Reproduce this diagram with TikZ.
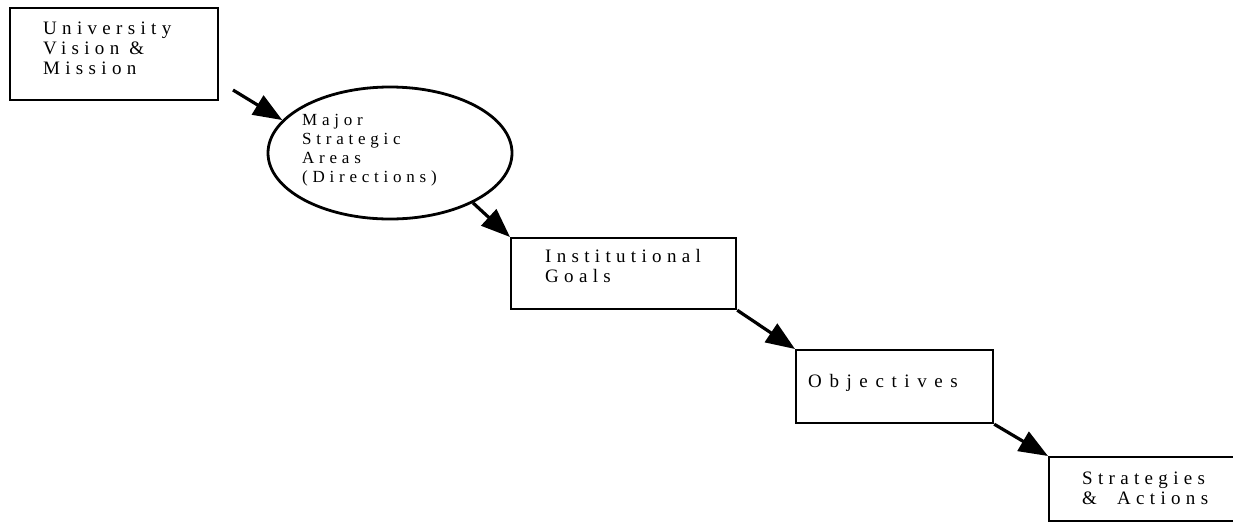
\documentclass[tikz,border=0pt]{standalone}
\usepackage{fontspec}
\setmainfont{Liberation Serif}
\usetikzlibrary{arrows.meta,shapes.geometric}
\newcommand{\spaced}[1]{\addfontfeature{LetterSpace=#1}}
\begin{document}
\begin{tikzpicture}[x=1pt,y=-1pt,
  stagebox/.style={draw,line width=2.2pt,rectangle,inner sep=0pt,anchor=north west},
  areaoval/.style={draw,line width=2.8pt,ellipse,inner sep=0pt,minimum width=244pt,minimum height=132pt},
  label/.style={anchor=north west,inner sep=0pt,align=left,font=\fontsize{19}{20}\selectfont\spaced{28}},
  smalllabel/.style={anchor=north west,inner sep=0pt,align=left,font=\fontsize{17}{19}\selectfont\spaced{28}},
  flow/.style={line width=3.2pt,-{Triangle[length=29pt,width=22pt]}}]
\useasboundingbox (0,0) rectangle (1233,523);
\clip (0,0) rectangle (1233,523);

% boxes and oval
\node[stagebox,minimum width=208pt,minimum height=92pt] (vision) at (9,7) {};
\node[areaoval] (areas) at (390,153) {};
\node[stagebox,minimum width=225pt,minimum height=71pt] (goals) at (510,237) {};
\node[stagebox,minimum width=197pt,minimum height=73pt] (objectives) at (795,349) {};
\node[stagebox,minimum width=200pt,minimum height=64pt] (strategies) at (1048,456) {};

% texts
\node[label] (visiontext) at (43,22) {University\\Vision \&\\Mission};
\node[smalllabel] (areastext) at (302,114) {Major\\Strategic\\Areas\\(Directions)};
\node[label] (goalstext) at (545,249) {Institutional\\Goals};
\node[label,font=\fontsize{19}{20}\selectfont\spaced{40}] (objectivestext) at (808,374) {Objectives};
\node[label] (strategiestext) at (1082,472) {Strategies\\\& \ Actions};

% connectors
\coordinate (start) at (233,90);
\draw[flow] (start) -- (areas.163);
\draw[flow] (areas.-31) -- (goals.north west);
\draw[flow] (goals.south east) -- (objectives.north west);
\draw[flow] (objectives.south east) -- (strategies.north west);
\end{tikzpicture}
\end{document}
